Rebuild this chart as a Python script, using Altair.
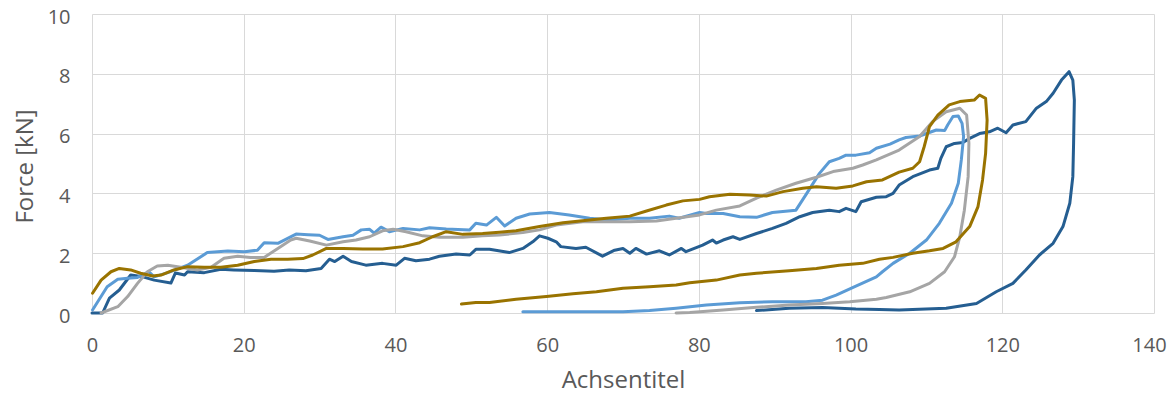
import altair as alt
import pandas as pd

# ---- data ----
series_names = ["Serie 1", "Serie 2", "Serie 3", "Serie 4"]
series_colors = ["#255E91", "#5B9BD5", "#A5A5A5", "#997300"]

s1_x = [0, 1.4, 2.3, 3.6, 5.1, 6.7, 8.2, 10.4, 11.0, 12.2, 12.6, 14.8, 17.0, 18.7, 21.4, 24.0, 26.0,
        28.2, 30.2, 31.3, 32.0, 33.1, 34.2, 36.1, 38.3, 40.1, 41.2, 42.7, 44.5, 45.8, 48.0, 49.8, 50.6,
        52.4, 55.0, 56.8, 58.1, 59.0, 60.1, 61.2, 61.8, 63.8, 65.1, 67.3, 68.9, 70.0, 70.9, 71.7, 73.1,
        74.8, 76.1, 77.7, 78.3, 80.5, 81.8, 82.3, 83.2, 84.5, 85.4, 87.6, 89.7, 91.5, 93.3, 95.0, 97.2,
        98.5, 99.4, 100.7, 101.4, 103.4, 104.7, 105.6, 106.4, 108.2, 110.4, 111.5, 111.9, 112.6, 113.7,
        114.8, 115.7, 117.0, 118.3, 119.4, 120.5, 121.4, 123.1, 124.5, 125.8, 126.7, 127.8, 128.8, 129.3,
        129.5, 129.4, 129.3, 128.9, 128.0, 126.7, 124.9, 123.1, 121.4, 119.2, 116.6, 112.6, 106.4, 103.8,
        100.7, 96.3, 91.9, 87.6]
s1_y = [0, 0, 0.5, 0.77, 1.27, 1.21, 1.1, 1.0, 1.34, 1.27, 1.38, 1.35, 1.46, 1.44, 1.42, 1.4, 1.44,
        1.41, 1.49, 1.8, 1.72, 1.9, 1.72, 1.6, 1.66, 1.6, 1.83, 1.75, 1.8, 1.9, 1.97, 1.94, 2.13,
        2.13, 2.02, 2.16, 2.38, 2.58, 2.5, 2.38, 2.22, 2.16, 2.2, 1.9, 2.1, 2.16, 2.0, 2.16, 1.97,
        2.08, 1.94, 2.16, 2.05, 2.27, 2.44, 2.34, 2.44, 2.55, 2.46, 2.66, 2.83, 3.0, 3.22, 3.36, 3.44,
        3.39, 3.5, 3.39, 3.72, 3.87, 3.89, 4.0, 4.28, 4.56, 4.78, 4.84, 5.17, 5.56, 5.67,
        5.7, 5.84, 6.0, 6.06, 6.18, 6.03, 6.29, 6.4, 6.85, 7.07, 7.35, 7.79, 8.07, 7.79,
        7.12, 5.68, 4.56, 3.67, 2.89, 2.33, 1.94, 1.44, 0.99, 0.71, 0.32, 0.16, 0.1, 0.12,
        0.13, 0.18, 0.16, 0.08]

s2_x = [0.07, 2.0, 3.4, 4.7, 6.0, 7.5, 8.2, 10.0, 12.6, 15.2, 17.9, 20.1, 21.8, 22.7, 24.5, 26.9,
        28.5, 30.0, 31.1, 33.1, 34.4, 35.5, 36.6, 37.2, 38.1, 39.2, 41.0, 43.2, 44.5, 46.7, 49.8, 50.6,
        52.0, 53.3, 54.4, 55.9, 57.7, 60.3, 62.9, 65.6, 68.2, 70.9, 73.5, 76.1, 77.4, 80.1, 81.0,
        83.2, 85.4, 87.6, 89.7, 92.8, 94.1, 95.9, 97.2, 98.5, 99.4, 100.7, 102.5, 103.4, 105.2, 106.4,
        107.3, 109.1, 111.3, 112.4, 112.8, 113.5, 114.2, 114.7, 114.9, 114.6, 114.2, 113.3, 111.7,
        110.0, 107.8, 105.6, 104.2, 103.4, 100.7, 98.1, 96.3, 94.1, 89.7, 85.4, 81.0, 77.0, 73.5,
        70.0, 56.8]
s2_y = [0.1, 0.88, 1.13, 1.16, 1.19, 1.38, 1.21, 1.35, 1.6, 2.02, 2.07, 2.05, 2.1, 2.35, 2.33, 2.64,
        2.62, 2.6, 2.46, 2.55, 2.6, 2.78, 2.8, 2.67, 2.87, 2.72, 2.83, 2.78, 2.85, 2.81, 2.78, 3.0,
        2.94, 3.2, 2.91, 3.17, 3.31, 3.36, 3.28, 3.17, 3.11, 3.17, 3.17, 3.24, 3.17, 3.36, 3.33,
        3.33, 3.22, 3.2, 3.36, 3.44, 3.95, 4.67, 5.06, 5.17, 5.28, 5.28, 5.36, 5.51, 5.65, 5.79,
        5.87, 5.92, 6.12, 6.1, 6.29, 6.57, 6.59, 6.34, 5.9, 5.12, 4.34, 3.67, 3.0,
        2.44, 2.0, 1.66, 1.38, 1.21, 0.9, 0.6, 0.43, 0.38, 0.38, 0.34, 0.27, 0.16, 0.08,
        0.04, 0.04]

s3_x = [1.2, 3.4, 4.7, 6.0, 7.3, 8.6, 10.0, 11.7, 13.9, 15.7, 17.4, 19.2, 20.9, 22.7, 24.5, 26.2,
        26.9, 28.7, 30.9, 33.1, 34.8, 36.6, 38.3, 39.7, 41.4, 43.6, 45.8, 48.9, 51.5, 53.7, 56.8, 59.0,
        61.2, 64.7, 67.8, 70.9, 74.4, 77.0, 80.1, 82.3, 85.4, 87.6, 90.2, 92.8, 95.5, 97.7, 100.3,
        101.6, 103.4, 106.4, 109.1, 110.8, 112.6, 114.4, 115.3, 115.6, 115.5, 115.0, 114.4, 113.7,
        112.4, 110.4, 107.8, 104.7, 103.4, 99.9, 96.3, 91.9, 87.6, 83.2, 78.8, 77.0]
s3_y = [0, 0.21, 0.55, 0.99, 1.38, 1.57, 1.6, 1.53, 1.44, 1.53, 1.83, 1.9, 1.86, 1.86, 2.16, 2.44,
        2.5, 2.41, 2.27, 2.38, 2.44, 2.55, 2.75, 2.8, 2.72, 2.58, 2.53, 2.53, 2.58, 2.61, 2.69, 2.78,
        2.94, 3.05, 3.05, 3.05, 3.08, 3.17, 3.28, 3.44, 3.58, 3.84, 4.11, 4.34, 4.54, 4.73, 4.84,
        4.95, 5.12, 5.45, 5.9, 6.4, 6.73, 6.85, 6.62, 5.68, 4.56, 3.44, 2.55, 1.88,
        1.38, 0.99, 0.71, 0.52, 0.46, 0.38, 0.32, 0.27, 0.19, 0.1, 0.02, 0]

s4_x = [0.07, 1.2, 2.5, 3.6, 5.1, 6.4, 8.0, 9.1, 10.8, 12.6, 14.8, 17.0, 19.2, 21.4, 23.6, 25.8,
        27.8, 29.1, 30.9, 33.1, 35.7, 38.3, 41.0, 43.2, 44.9, 46.7, 48.9, 51.5, 53.7, 55.9, 59.0, 62.1,
        65.6, 67.8, 70.9, 73.1, 75.7, 77.9, 80.1, 81.4, 84.1, 86.7, 88.9, 91.1, 93.7, 95.5, 98.1,
        100.3, 102.1, 104.2, 106.4, 108.2, 109.1, 109.7, 110.4, 111.5, 113.0, 114.4, 116.3, 117.0,
        117.8, 118.0, 117.8, 117.4, 116.8, 115.7, 113.9, 112.2, 110.4, 108.2, 105.6, 103.8, 101.6,
        98.5, 95.5, 91.9, 87.6, 85.4, 82.3, 78.8, 77.0, 73.5, 70.0, 66.5, 63.4, 59.9, 55.9, 52.4,
        50.6, 48.7]
s4_y = [0.66, 1.1, 1.38, 1.49, 1.44, 1.33, 1.24, 1.27, 1.44, 1.55, 1.53, 1.53, 1.6, 1.72, 1.8, 1.8,
        1.82, 1.94, 2.16, 2.16, 2.14, 2.14, 2.22, 2.35, 2.55, 2.72, 2.63, 2.66, 2.7, 2.75, 2.89, 3.02,
        3.11, 3.17, 3.24, 3.41, 3.61, 3.75, 3.8, 3.89, 3.97, 3.95, 3.91, 4.06, 4.17, 4.22, 4.17,
        4.25, 4.39, 4.45, 4.71, 4.84, 5.06, 5.56, 6.23, 6.62, 6.96, 7.07, 7.12, 7.29,
        7.18, 6.45, 5.34, 4.45, 3.56, 2.89, 2.38, 2.16, 2.08, 2.0, 1.86, 1.8, 1.66,
        1.6, 1.49, 1.41, 1.33, 1.27, 1.1, 1.01, 0.94, 0.88, 0.83, 0.71, 0.64, 0.55, 0.46, 0.35,
        0.35, 0.3]

x_ticks = [0, 20, 40, 60, 80, 100, 120, 140]
y_ticks = [0, 2, 4, 6, 8, 10]

rows = []
for name, xs, ys in zip(series_names, [s1_x, s2_x, s3_x, s4_x], [s1_y, s2_y, s3_y, s4_y]):
    for i, (xv, yv) in enumerate(zip(xs, ys)):
        rows.append({"series": name, "i": i, "x": xv, "y": yv})
df = pd.DataFrame(rows)

FONT = "Open Sans"
TXT = "#595959"
GRID = "#D9D9D9"

chart = alt.Chart(df).mark_line(strokeWidth=3, strokeJoin="round", strokeCap="round").encode(
    x=alt.X("x:Q", scale=alt.Scale(domain=[0, 140], nice=False, zero=False),
            axis=alt.Axis(values=x_ticks, title="Achsentitel", grid=True, gridColor=GRID,
                          gridWidth=1, domain=False, ticks=False, labelPadding=22,
                          labelFlush=False, labelOverlap=False,
                          labelOffset={"condition": {"test": "datum.value == 140", "value": -5},
                                       "value": 0},
                          labelFont=FONT, labelFontSize=20, labelColor=TXT,
                          titleFont=FONT, titleFontSize=24, titleColor=TXT,
                          titleFontWeight="normal", titleX=531, titleY=74,
                          titleBaseline="alphabetic", titleAlign="center")),
    y=alt.Y("y:Q", scale=alt.Scale(domain=[0, 10], nice=False),
            axis=alt.Axis(values=y_ticks, title="Force [kN]", grid=True, gridColor=GRID,
                          gridWidth=1, domain=False, ticks=False, labelPadding=22,
                          labelFlush=False, labelOverlap=False, labelOffset=3,
                          labelFont=FONT, labelFontSize=20, labelColor=TXT,
                          titleFont=FONT, titleFontSize=24, titleColor=TXT,
                          titleFontWeight="normal", titleX=-60, titleY=152,
                          titleAngle=270, titleAlign="center", titleBaseline="alphabetic")),
    color=alt.Color("series:N", scale=alt.Scale(domain=series_names, range=series_colors),
                    legend=None),
    order=alt.Order("i:Q"),
    detail="series:N",
).properties(
    width=1062, height=299,
    autosize=alt.AutoSizeParams(type="none"),
    padding={"left": 84, "top": 6, "right": 14, "bottom": 76},
).configure_view(stroke=None)

chart.save("out.html", embed_options={"renderer": "svg", "actions": False})
